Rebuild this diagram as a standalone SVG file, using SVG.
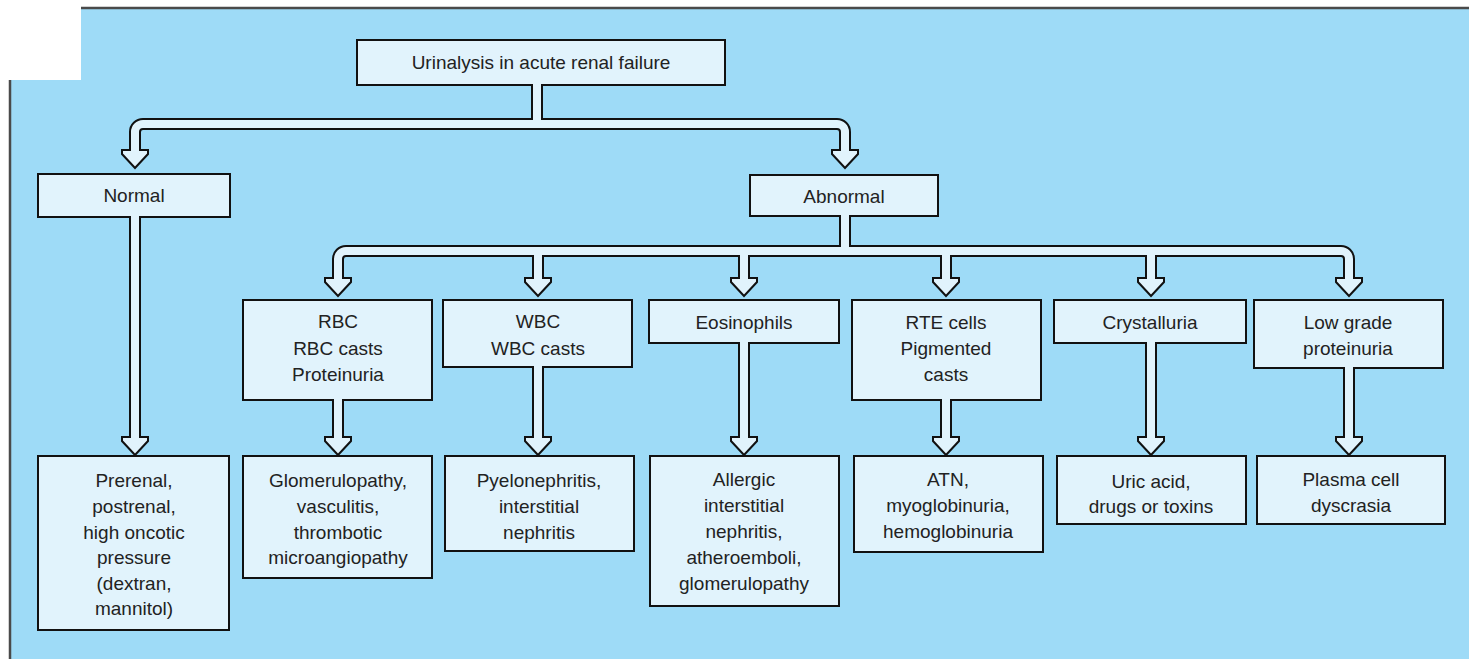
<svg xmlns="http://www.w3.org/2000/svg" width="1469" height="659" viewBox="0 0 1469 659">
<style>
.node rect{fill:#e1f3fc;stroke:#111;stroke-width:2}
.node text{font-family:"Liberation Sans",Arial,sans-serif;font-size:19px;fill:#222;text-anchor:middle}
.cb{fill:none;stroke:#111;stroke-width:12}
.cw{fill:none;stroke:#e1f3fc;stroke-width:8}
.head{fill:#e1f3fc;stroke:#111;stroke-width:2;stroke-linejoin:miter}
.frame{fill:none;stroke:#4a4a4a;stroke-width:2.5}
</style>
<defs>
<polygon id="hd" class="head" points="-13,-18 -13,-14 0,0 13,-14 13,-18"/>
</defs>
<rect width="1469" height="659" fill="#ffffff"/>
<polygon points="81,8 1469,8 1469,659 10,659 10,80 81,80" fill="#9edbf7"/>
<path class="frame" d="M81 8 H1469 M10 80 V659"/>

<g id="n-title" class="node"><rect x="357" y="40" width="368" height="45"/><text x="541" y="69">Urinalysis in acute renal failure</text></g>
<g id="n-normal" class="node"><rect x="38" y="174" width="192" height="43"/><text x="134" y="202">Normal</text></g>
<g id="n-abnormal" class="node"><rect x="750" y="175" width="188" height="41"/><text x="844" y="203">Abnormal</text></g>

<g id="n-rbc" class="node"><rect x="243" y="300" width="189" height="100"/><text x="338" y="328">RBC</text><text x="338" y="355">RBC casts</text><text x="338" y="381">Proteinuria</text></g>
<g id="n-wbc" class="node"><rect x="443" y="300" width="189" height="67"/><text x="538" y="328">WBC</text><text x="538" y="355">WBC casts</text></g>
<g id="n-eos" class="node"><rect x="649" y="300" width="190" height="43"/><text x="744" y="329">Eosinophils</text></g>
<g id="n-rte" class="node"><rect x="852" y="300" width="189" height="100"/><text x="946" y="329">RTE cells</text><text x="946" y="355">Pigmented</text><text x="946" y="381">casts</text></g>
<g id="n-cryst" class="node"><rect x="1054" y="300" width="192" height="43"/><text x="1150" y="329">Crystalluria</text></g>
<g id="n-low" class="node"><rect x="1254" y="300" width="189" height="68"/><text x="1348" y="329">Low grade</text><text x="1348" y="355">proteinuria</text></g>

<g id="n-prerenal" class="node"><rect x="38" y="456" width="191" height="174"/><text x="134" y="487">Prerenal,</text><text x="134" y="513">postrenal,</text><text x="134" y="539">high oncotic</text><text x="134" y="564">pressure</text><text x="134" y="590">(dextran,</text><text x="134" y="615">mannitol)</text></g>
<g id="n-glom" class="node"><rect x="243" y="456" width="189" height="122"/><text x="338" y="487">Glomerulopathy,</text><text x="338" y="513">vasculitis,</text><text x="338" y="539">thrombotic</text><text x="338" y="564">microangiopathy</text></g>
<g id="n-pyelo" class="node"><rect x="445" y="456" width="189" height="95"/><text x="539" y="487">Pyelonephritis,</text><text x="539" y="513">interstitial</text><text x="539" y="539">nephritis</text></g>
<g id="n-allergic" class="node"><rect x="650" y="456" width="189" height="150"/><text x="744" y="486">Allergic</text><text x="744" y="512">interstitial</text><text x="744" y="538">nephritis,</text><text x="744" y="564">atheroemboli,</text><text x="744" y="590">glomerulopathy</text></g>
<g id="n-atn" class="node"><rect x="854" y="456" width="189" height="96"/><text x="948" y="486">ATN,</text><text x="948" y="512">myoglobinuria,</text><text x="948" y="538">hemoglobinuria</text></g>
<g id="n-uric" class="node"><rect x="1057" y="456" width="189" height="68"/><text x="1151" y="488">Uric acid,</text><text x="1151" y="513">drugs or toxins</text></g>
<g id="n-plasma" class="node"><rect x="1257" y="456" width="188" height="68"/><text x="1351" y="486">Plasma cell</text><text x="1351" y="512">dyscrasia</text></g>

<g id="connectors">
<path class="cb" d="M537 85 V124 M135 150 V132 A8 8 0 0 1 143 124 H837 A8 8 0 0 1 845 132 V150
M845 216 V251 M338 278 V259 A8 8 0 0 1 346 251 H1341 A8 8 0 0 1 1349 259 V278 M538 251 V278 M744 251 V278 M946 251 V278 M1151 251 V278
M135 217 V437 M338 400 V437 M538 367 V437 M744 343 V437 M946 400 V437 M1151 343 V437 M1349 368 V437"/>
<use href="#hd" x="135" y="168"/><use href="#hd" x="845" y="168"/>
<use href="#hd" x="338" y="296"/><use href="#hd" x="538" y="296"/><use href="#hd" x="744" y="296"/><use href="#hd" x="946" y="296"/><use href="#hd" x="1151" y="296"/><use href="#hd" x="1349" y="296"/>
<use href="#hd" x="135" y="455"/><use href="#hd" x="338" y="455"/><use href="#hd" x="538" y="455"/><use href="#hd" x="744" y="455"/><use href="#hd" x="946" y="455"/><use href="#hd" x="1151" y="455"/><use href="#hd" x="1349" y="455"/>
<path class="cw" d="M537 83 V124 M135 152 V132 A8 8 0 0 1 143 124 H837 A8 8 0 0 1 845 132 V152
M845 214 V251 M338 280 V259 A8 8 0 0 1 346 251 H1341 A8 8 0 0 1 1349 259 V280 M538 251 V280 M744 251 V280 M946 251 V280 M1151 251 V280
M135 215 V439 M338 398 V439 M538 365 V439 M744 341 V439 M946 398 V439 M1151 341 V439 M1349 366 V439"/>
</g>
</svg>
